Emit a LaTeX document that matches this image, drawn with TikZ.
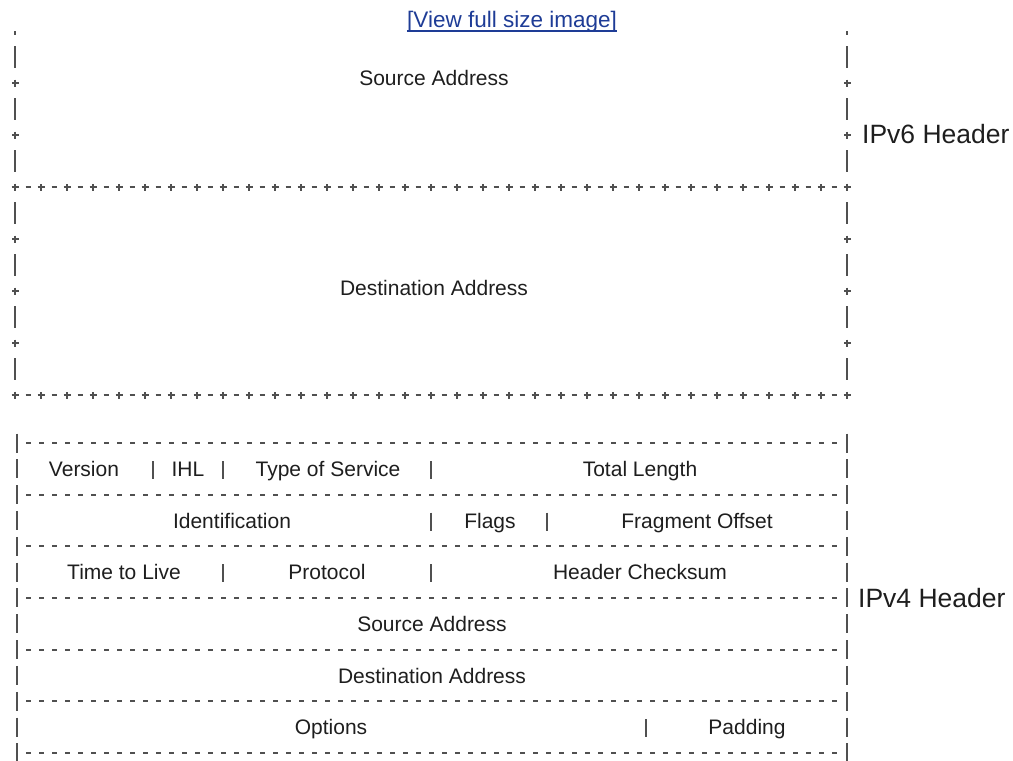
\documentclass[tikz,border=0pt]{standalone}
\usepackage{fontspec}
\setmainfont{Liberation Sans}
\definecolor{linegray}{RGB}{80,80,80}
\definecolor{textgray}{RGB}{30,30,30}
\definecolor{linkblue}{RGB}{30,60,150}
\begin{document}
\begin{tikzpicture}[x=1pt,y=-1pt,
  field/.style={inner sep=0pt,anchor=base,text=textgray,font=\fontsize{21}{24}\selectfont},
  hdr/.style={inner sep=0pt,anchor=base west,text=textgray,font=\fontsize{26.5}{30}\selectfont},
  link/.style={inner sep=0pt,anchor=base,text=linkblue,font=\fontsize{22.5}{26}\selectfont},
  linkline/.style={draw=linkblue,line width=1.5pt},
  plusline/.style={draw=linegray,line width=1.5pt,dash pattern=on 7pt off 7pt on 5pt off 7pt},
  plustick/.style={draw=linegray,line width=7pt,dash pattern=on 1.6pt off 24.4pt},
  barline/.style={draw=linegray,line width=1.5pt,dash pattern=on 7pt off 11.5pt on 22pt off 11.5pt,dash phase=3.5pt},
  barcross/.style={draw=linegray,line width=7pt,dash pattern=on 1.6pt off 50.4pt},
  rowline/.style={draw=linegray,line width=1.5pt,dash pattern=on 5pt off 8pt},
  sideline/.style={draw=linegray,line width=1.5pt,dash pattern=on 19pt off 6.83pt},
  sepbar/.style={draw=linegray,line width=1.5pt}]
\useasboundingbox (0,0) rectangle (1013,761);
\node[link] (view) at (512,27.3) {[View full size image]};
\draw[linkline] ([yshift=-3.5pt]view.base west) -- ([yshift=-3.5pt]view.base east);
\draw[barline] (15,31) -- (15,398.5);
\draw[barcross] (15,82.2) -- (15,395.8);
\draw[barline] (847,31) -- (847,398.5);
\draw[barcross] (847,82.2) -- (847,395.8);
\draw[plusline] (11.5,187) -- (850.5,187);
\draw[plustick] (14.2,187) -- (847.8,187);
\draw[plusline] (11.5,395) -- (850.5,395);
\draw[plustick] (14.2,395) -- (847.8,395);
\node[field] (srcsix) at (434,85) {Source Address};
\node[field] (dstsix) at (434,295) {Destination Address};
\node[hdr] (sixhdr) at (862,143) {IPv6 Header};
\draw[sideline] (17,433.5) -- (17,761);
\draw[sideline] (847,433.5) -- (847,761);
\draw[rowline] (26,443) -- (838,443);
\draw[rowline] (26,495) -- (838,495);
\draw[rowline] (26,546) -- (838,546);
\draw[rowline] (26,598) -- (838,598);
\draw[rowline] (26,650) -- (838,650);
\draw[rowline] (26,701) -- (838,701);
\draw[rowline] (26,753) -- (838,753);
\node[field] (version) at (84,476.5) {Version};
\node[field] (ihl) at (188,476.5) {IHL};
\node[field] (tos) at (328,476.5) {Type of Service};
\node[field] (totlen) at (640,476.5) {Total Length};
\draw[sepbar] (153,461) -- (153,479);
\draw[sepbar] (223,461) -- (223,479);
\draw[sepbar] (431,461) -- (431,479);
\node[field] (ident) at (232,528) {Identification};
\node[field] (flags) at (490,528) {Flags};
\node[field] (fragoff) at (697,528) {Fragment Offset};
\draw[sepbar] (431,512.5) -- (431,530.5);
\draw[sepbar] (547,512.5) -- (547,530.5);
\node[field] (ttl) at (124,579.5) {Time to Live};
\node[field] (proto) at (327,579.5) {Protocol};
\node[field] (hdrsum) at (640,579.5) {Header Checksum};
\draw[sepbar] (223,564) -- (223,582);
\draw[sepbar] (431,564) -- (431,582);
\node[field] (srcfour) at (432,631.5) {Source Address};
\node[field] (dstfour) at (432,683) {Destination Address};
\node[field] (options) at (331,734.5) {Options};
\node[field] (padding) at (747,734.5) {Padding};
\draw[sepbar] (646,719) -- (646,737);
\node[hdr] (fourhdr) at (858,607.5) {IPv4 Header};
\end{tikzpicture}
\end{document}
